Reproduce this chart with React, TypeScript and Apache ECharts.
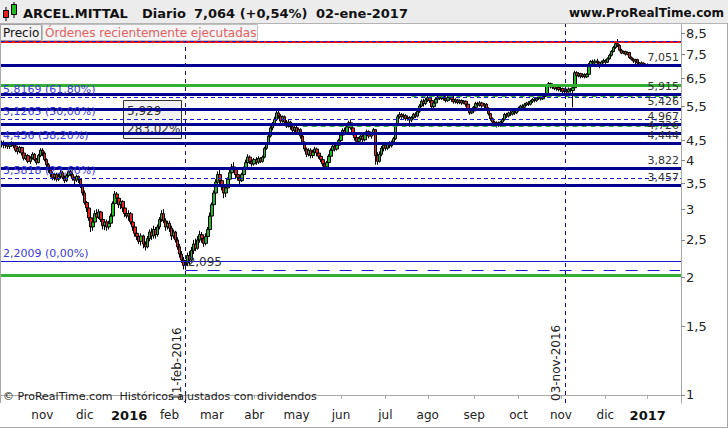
import React, { useEffect, useRef } from "react";
import * as echarts from "echarts";

const FONT = "DejaVu Sans";

// ---- categories (trading days, Madrid) ----
const START_DATE = "2015-10-05";
const END_DATE = "2017-01-24";
const HOLIDAYS = ["2015-12-25", "2016-01-01", "2016-03-25", "2016-03-28", "2016-12-26"];
const MONTH_NAMES = ["ene", "feb", "mar", "abr", "may", "jun", "jul", "ago", "sep", "oct", "nov", "dic"];

// ---- y axis (log scale) ----
const Y_TICKS = [8.5, 7.5, 6.5, 5.5, 4.5, 4, 3.5, 3, 2.5, 2, 1.5, 1];
const Y_MIN = 0.9532;
const Y_MAX = 8.966;

// ---- daily candles [open, close, low, high] ----
const OCT15 = [
  [4.40, 4.45, 4.32, 4.50], [4.45, 4.38, 4.30, 4.50], [4.38, 4.42, 4.30, 4.46], [4.42, 4.35, 4.28, 4.46], [4.35, 4.40, 4.28, 4.44],
  [4.40, 4.44, 4.34, 4.48], [4.44, 4.36, 4.30, 4.46], [4.36, 4.25, 4.20, 4.38], [4.30, 4.22, 4.15, 4.35], [4.22, 4.32, 4.18, 4.36],
  [4.32, 4.18, 4.12, 4.34], [4.18, 4.05, 4.00, 4.22], [4.05, 4.12, 4.01, 4.16], [4.12, 3.98, 3.94, 4.15], [3.98, 4.06, 3.92, 4.10],
  [4.06, 4.15, 4.02, 4.20], [4.15, 4.02, 3.98, 4.18], [4.02, 3.95, 3.90, 4.06], [3.95, 4.12, 3.93, 4.16], [4.12, 4.25, 4.08, 4.30],
];
const NOV15 = [
  [4.25, 4.18, 4.10, 4.30], [4.18, 4.02, 3.98, 4.22], [4.02, 3.90, 3.85, 4.05], [3.90, 3.78, 3.72, 3.94], [3.78, 3.70, 3.62, 3.82],
  [3.70, 3.62, 3.56, 3.74], [3.62, 3.68, 3.55, 3.72], [3.68, 3.58, 3.53, 3.72], [3.58, 3.64, 3.54, 3.70], [3.64, 3.72, 3.60, 3.78],
  [3.72, 3.62, 3.58, 3.76], [3.62, 3.55, 3.50, 3.66], [3.55, 3.66, 3.52, 3.70], [3.66, 3.75, 3.62, 3.82], [3.75, 3.68, 3.64, 3.80],
  [3.68, 3.60, 3.55, 3.72], [3.60, 3.56, 3.48, 3.64], [3.56, 3.64, 3.52, 3.68], [3.64, 3.58, 3.50, 3.66], [3.58, 3.45, 3.40, 3.60],
  [3.45, 3.30, 3.25, 3.48],
];
const DEC15 = [
  [3.30, 3.12, 3.08, 3.35], [3.12, 3.02, 2.95, 3.15], [3.02, 2.85, 2.80, 3.05], [2.85, 2.70, 2.62, 2.88], [2.70, 2.78, 2.64, 2.84],
  [2.78, 2.92, 2.75, 2.98], [2.92, 2.86, 2.82, 3.00], [2.86, 2.95, 2.83, 3.00], [2.95, 2.82, 2.78, 2.97], [2.82, 2.72, 2.66, 2.85],
  [2.72, 2.78, 2.65, 2.82], [2.78, 2.70, 2.64, 2.82], [2.70, 2.76, 2.66, 2.80], [2.76, 2.88, 2.74, 2.92], [2.88, 3.10, 2.86, 3.14],
  [3.10, 3.28, 3.05, 3.34], [3.28, 3.20, 3.12, 3.32], [3.20, 3.08, 3.02, 3.24], [3.08, 3.14, 3.00, 3.18], [3.14, 3.02, 2.95, 3.16],
  [3.02, 2.92, 2.86, 3.06], [2.92, 2.88, 2.84, 2.98],
];
const JAN16 = [
  [2.88, 2.92, 2.80, 2.98], [2.92, 2.78, 2.74, 2.95], [2.78, 2.70, 2.64, 2.82], [2.70, 2.60, 2.55, 2.74], [2.60, 2.55, 2.50, 2.66],
  [2.55, 2.48, 2.44, 2.58], [2.48, 2.56, 2.42, 2.60], [2.56, 2.44, 2.38, 2.58], [2.44, 2.40, 2.35, 2.48], [2.40, 2.52, 2.38, 2.56],
  [2.52, 2.62, 2.48, 2.66], [2.62, 2.56, 2.50, 2.68], [2.56, 2.66, 2.52, 2.72], [2.66, 2.58, 2.52, 2.70], [2.58, 2.70, 2.55, 2.74],
  [2.70, 2.82, 2.66, 2.86], [2.82, 2.92, 2.78, 2.98], [2.92, 2.80, 2.76, 3.00], [2.80, 2.70, 2.64, 2.84], [2.70, 2.76, 2.66, 2.80],
];
const FEB16 = [
  [2.76, 2.68, 2.62, 2.80], [2.68, 2.56, 2.50, 2.72], [2.56, 2.62, 2.52, 2.66], [2.62, 2.50, 2.46, 2.64], [2.50, 2.40, 2.36, 2.54],
  [2.40, 2.30, 2.25, 2.44], [2.30, 2.22, 2.18, 2.34], [2.22, 2.15, 2.10, 2.26], [2.15, 2.18, 2.095, 2.22], [2.18, 2.28, 2.14, 2.32],
  [2.28, 2.22, 2.16, 2.34], [2.22, 2.35, 2.20, 2.40], [2.35, 2.44, 2.30, 2.50], [2.44, 2.38, 2.34, 2.52], [2.38, 2.50, 2.36, 2.56],
  [2.50, 2.58, 2.46, 2.64], [2.58, 2.52, 2.46, 2.62], [2.52, 2.45, 2.40, 2.56], [2.45, 2.55, 2.42, 2.60], [2.55, 2.66, 2.52, 2.70],
  [2.66, 2.88, 2.64, 2.94],
];
const MAR16 = [
  [2.88, 3.08, 2.85, 3.12], [3.08, 3.30, 3.04, 3.35], [3.30, 3.52, 3.28, 3.58], [3.52, 3.68, 3.46, 3.75], [3.68, 3.55, 3.48, 3.78],
  [3.55, 3.42, 3.35, 3.60], [3.42, 3.30, 3.20, 3.46], [3.30, 3.40, 3.22, 3.45], [3.40, 3.58, 3.36, 3.62], [3.58, 3.72, 3.54, 3.78],
  [3.72, 3.85, 3.68, 3.92], [3.85, 3.80, 3.72, 3.96], [3.80, 3.68, 3.60, 3.84], [3.68, 3.62, 3.55, 3.72], [3.62, 3.55, 3.48, 3.66],
  [3.55, 3.68, 3.52, 3.72], [3.68, 3.82, 3.64, 3.86], [3.82, 3.95, 3.78, 4.02], [3.95, 4.08, 3.90, 4.15], [4.08, 3.98, 3.92, 4.12],
  [3.98, 3.92, 3.86, 4.04],
];
const APR16 = [
  [3.92, 4.02, 3.88, 4.06], [4.02, 3.96, 3.90, 4.08], [3.96, 4.05, 3.92, 4.10], [4.05, 3.98, 3.94, 4.08], [3.98, 4.08, 3.95, 4.12],
  [4.08, 4.30, 4.05, 4.34], [4.30, 4.42, 4.26, 4.46], [4.42, 4.62, 4.40, 4.68], [4.62, 4.85, 4.58, 4.90], [4.85, 4.95, 4.78, 5.02],
  [4.95, 5.10, 4.90, 5.18], [5.10, 5.30, 5.05, 5.36], [5.30, 5.20, 5.12, 5.40], [5.20, 5.05, 4.98, 5.26], [5.05, 5.18, 5.00, 5.22],
  [5.18, 5.02, 4.95, 5.22], [5.02, 4.90, 4.85, 5.08], [4.90, 5.02, 4.86, 5.08], [5.02, 4.88, 4.80, 5.06], [4.88, 4.78, 4.72, 4.92],
  [4.78, 4.86, 4.70, 4.90],
];
const MAY16 = [
  [4.86, 4.72, 4.66, 4.92], [4.72, 4.80, 4.65, 4.86], [4.80, 4.62, 4.55, 4.84], [4.62, 4.45, 4.40, 4.66], [4.45, 4.28, 4.22, 4.48],
  [4.28, 4.15, 4.08, 4.32], [4.15, 4.25, 4.10, 4.30], [4.25, 4.12, 4.05, 4.30], [4.12, 4.20, 4.06, 4.26], [4.20, 4.28, 4.15, 4.34],
  [4.28, 4.18, 4.10, 4.32], [4.18, 4.10, 4.04, 4.22], [4.10, 4.02, 3.96, 4.14], [4.02, 3.92, 3.86, 4.06], [3.92, 3.85, 3.78, 3.96],
  [3.85, 3.95, 3.80, 3.99], [3.95, 4.10, 3.92, 4.15], [4.10, 4.25, 4.06, 4.30], [4.25, 4.35, 4.20, 4.42], [4.35, 4.28, 4.22, 4.40],
  [4.28, 4.38, 4.24, 4.44], [4.38, 4.50, 4.34, 4.55],
];
const JUN16 = [
  [4.50, 4.65, 4.46, 4.70], [4.65, 4.78, 4.60, 4.84], [4.78, 4.72, 4.66, 4.86], [4.72, 4.88, 4.68, 4.94], [4.88, 5.00, 4.84, 5.06],
  [5.00, 4.85, 4.80, 5.10], [4.85, 4.70, 4.64, 4.88], [4.70, 4.58, 4.50, 4.74], [4.58, 4.48, 4.42, 4.62], [4.48, 4.55, 4.40, 4.60],
  [4.55, 4.62, 4.50, 4.68], [4.62, 4.52, 4.46, 4.66], [4.52, 4.66, 4.48, 4.72], [4.66, 4.74, 4.60, 4.80], [4.74, 4.62, 4.56, 4.78],
  [4.62, 4.68, 4.55, 4.74], [4.68, 4.80, 4.64, 4.85], [4.80, 4.12, 3.90, 4.82], [4.12, 3.98, 3.90, 4.20], [3.98, 4.15, 3.95, 4.22],
  [4.15, 4.30, 4.10, 4.36], [4.30, 4.38, 4.22, 4.44],
];
const JUL16 = [
  [4.38, 4.30, 4.24, 4.46], [4.30, 4.40, 4.26, 4.46], [4.40, 4.36, 4.30, 4.48], [4.36, 4.46, 4.32, 4.50], [4.46, 4.55, 4.42, 4.60],
  [4.55, 4.92, 4.52, 4.98], [4.92, 5.18, 4.90, 5.25], [5.18, 5.25, 5.12, 5.33], [5.25, 5.18, 5.12, 5.30], [5.18, 5.22, 5.12, 5.28],
  [5.22, 5.12, 5.06, 5.26], [5.12, 5.16, 5.06, 5.22], [5.16, 5.08, 4.88, 5.20], [5.08, 5.15, 5.02, 5.20], [5.15, 5.26, 5.10, 5.30],
  [5.26, 5.20, 5.14, 5.32], [5.20, 5.35, 5.16, 5.40], [5.35, 5.52, 5.30, 5.58], [5.52, 5.68, 5.48, 5.74], [5.68, 5.60, 5.50, 5.76],
  [5.60, 5.72, 5.55, 5.80],
];
const AUG16 = [
  [5.72, 5.80, 5.65, 5.88], [5.80, 5.70, 5.62, 5.84], [5.70, 5.50, 5.36, 5.74], [5.50, 5.62, 5.46, 5.68], [5.62, 5.75, 5.58, 5.80],
  [5.75, 5.82, 5.70, 5.88], [5.82, 5.78, 5.72, 5.90], [5.78, 5.84, 5.72, 5.90], [5.84, 5.76, 5.70, 5.88], [5.76, 5.70, 5.64, 5.80],
  [5.70, 5.80, 5.66, 5.86], [5.80, 5.86, 5.74, 5.90], [5.86, 5.74, 5.66, 5.88], [5.74, 5.66, 5.60, 5.78], [5.66, 5.72, 5.60, 5.78],
  [5.72, 5.64, 5.58, 5.76], [5.64, 5.70, 5.58, 5.74], [5.70, 5.62, 5.56, 5.74], [5.62, 5.68, 5.58, 5.72], [5.68, 5.58, 5.50, 5.70],
  [5.58, 5.42, 5.36, 5.60], [5.42, 5.30, 5.24, 5.46], [5.30, 5.36, 5.26, 5.42],
];
const SEP16 = [
  [5.36, 5.48, 5.32, 5.52], [5.48, 5.60, 5.44, 5.66], [5.60, 5.55, 5.48, 5.66], [5.55, 5.62, 5.50, 5.68], [5.62, 5.52, 5.46, 5.66],
  [5.52, 5.58, 5.46, 5.62], [5.58, 5.45, 5.40, 5.62], [5.45, 5.28, 5.22, 5.48], [5.28, 5.12, 5.06, 5.30], [5.12, 5.02, 4.96, 5.16],
  [5.02, 4.94, 4.88, 5.06], [4.94, 5.00, 4.86, 5.04], [5.00, 4.92, 4.88, 5.04], [4.92, 5.02, 4.88, 5.06], [5.02, 5.10, 4.98, 5.14],
  [5.10, 5.25, 5.06, 5.30], [5.25, 5.20, 5.14, 5.30], [5.20, 5.30, 5.16, 5.34], [5.30, 5.26, 5.20, 5.36], [5.26, 5.34, 5.22, 5.38],
  [5.34, 5.30, 5.24, 5.40], [5.30, 5.38, 5.26, 5.42],
];
const OCT16 = [
  [5.38, 5.45, 5.34, 5.50], [5.45, 5.52, 5.40, 5.56], [5.52, 5.48, 5.42, 5.58], [5.48, 5.56, 5.44, 5.62], [5.56, 5.62, 5.52, 5.66],
  [5.62, 5.58, 5.52, 5.68], [5.58, 5.68, 5.54, 5.72], [5.68, 5.74, 5.62, 5.78], [5.74, 5.70, 5.64, 5.80], [5.70, 5.78, 5.66, 5.82],
  [5.78, 5.82, 5.72, 5.88], [5.82, 5.76, 5.70, 5.86], [5.76, 5.84, 5.72, 5.90], [5.84, 5.90, 5.80, 5.94], [5.90, 6.20, 5.88, 6.28],
  [6.20, 6.30, 6.14, 6.36], [6.30, 6.18, 6.12, 6.34], [6.18, 6.22, 6.10, 6.28], [6.22, 6.12, 6.06, 6.26], [6.12, 6.16, 6.04, 6.22],
  [6.16, 6.08, 6.02, 6.20],
];
const NOV16 = [
  [6.08, 6.12, 6.00, 6.18], [6.12, 6.02, 5.96, 6.16], [6.02, 6.06, 5.95, 6.10], [6.06, 6.00, 5.94, 6.12], [6.00, 6.10, 5.98, 6.16],
  [6.10, 6.05, 5.98, 6.14], [6.05, 6.15, 5.48, 6.18], [6.15, 6.72, 6.12, 6.80], [6.72, 6.60, 6.52, 6.78], [6.60, 6.68, 6.54, 6.74],
  [6.68, 6.58, 6.50, 6.72], [6.58, 6.64, 6.52, 6.70], [6.64, 6.56, 6.50, 6.70], [6.56, 6.66, 6.52, 6.70], [6.66, 7.05, 6.62, 7.12],
  [7.05, 7.18, 7.00, 7.24], [7.18, 7.12, 7.04, 7.26], [7.12, 7.20, 7.06, 7.28], [7.20, 7.14, 7.08, 7.30], [7.14, 7.06, 6.90, 7.18],
  [7.06, 7.16, 7.02, 7.22], [7.16, 7.22, 7.10, 7.30],
];
const DEC16 = [
  [7.22, 7.15, 7.08, 7.28], [7.15, 7.30, 7.12, 7.36], [7.30, 7.45, 7.26, 7.52], [7.45, 7.62, 7.40, 7.68], [7.62, 7.80, 7.58, 7.88],
  [7.80, 7.98, 7.74, 8.05], [7.98, 7.90, 7.82, 8.20], [7.90, 7.68, 7.62, 7.95], [7.68, 7.55, 7.50, 7.74], [7.55, 7.62, 7.50, 7.66],
  [7.62, 7.50, 7.44, 7.66], [7.50, 7.58, 7.45, 7.62], [7.58, 7.35, 7.30, 7.60], [7.35, 7.28, 7.22, 7.40], [7.28, 7.20, 7.12, 7.32],
  [7.20, 7.26, 7.00, 7.30], [7.26, 7.12, 7.06, 7.30], [7.12, 7.06, 7.00, 7.16], [7.06, 7.12, 7.02, 7.18], [7.12, 7.02, 6.98, 7.14],
  [7.02, 7.026, 6.96, 7.10],
];
const JAN17 = [[7.026, 7.064, 7.00, 7.10]];

const PRICES = [
  ...OCT15, ...NOV15, ...DEC15, ...JAN16, ...FEB16, ...MAR16, ...APR16, ...MAY16,
  ...JUN16, ...JUL16, ...AUG16, ...SEP16, ...OCT16, ...NOV16, ...DEC16, ...JAN17,
];

// ---- drawn levels ----
const BLUE_LEVELS = [7.051, 5.915, 5.426, 4.967, 4.726, 4.444, 3.822, 3.457];
const FIB_VALUES = [8.052, 5.8169, 5.1265, 4.436, 3.5818, 2.2009];
const FIB_LABELS = ["", "5,8169 (61,80%)", "5,1265 (50,00%)", "4,436 (38,20%)", "3,5818 (23,60%)", "2,2009 (0,00%)"];
const GREEN_LEVELS = [6.224, 2.03];
const GREEN_DASH_VALUES = [7.06, 5.84, 4.90];
const GREEN_DASH_FROM = ["2016-11-18", "2016-07-20", "2016-05-05"];
const LOW_VALUE = 2.095;
const LOW_DATE = "2016-02-11";
const VLINE_DATES = ["2016-02-11", "2016-11-03"];
const VLINE_LABELS = ["11-feb-2016", "03-nov-2016"];

function buildDates(): string[] {
  const out: string[] = [];
  const d = new Date(START_DATE + "T00:00:00Z");
  const end = new Date(END_DATE + "T00:00:00Z");
  while (d <= end) {
    const dow = d.getUTCDay();
    const s = d.toISOString().slice(0, 10);
    if (dow !== 0 && dow !== 6 && !HOLIDAYS.includes(s)) out.push(s);
    d.setUTCDate(d.getUTCDate() + 1);
  }
  return out;
}

const fmtTick = (v: number) => String(Math.round(v * 10) / 10).replace(".", ",");
const fmt3 = (v: number) => v.toFixed(3).replace(".", ",");

export default function App() {
  const ref = useRef<HTMLDivElement>(null);
  useEffect(() => {
    if (!ref.current) return;
    const chart = echarts.init(ref.current, null, { renderer: "svg" });
    const dates = buildDates();
    const lastDate = dates[dates.length - 1];
    const isMonthStart = (i: number) => i > 0 && dates[i].slice(5, 7) !== dates[i - 1].slice(5, 7);
    const ln = Math.log;

    const markData: any[] = [];
    // red top line (Fib 100%)
    markData.push({ yAxis: ln(FIB_VALUES[0]), lineStyle: { color: "#ee1111", width: 2, type: "solid" }, label: { show: false } });
    GREEN_LEVELS.forEach((v) =>
      markData.push({ yAxis: ln(v), lineStyle: { color: "#33b033", width: 3, type: "solid" }, label: { show: false } })
    );
    GREEN_DASH_VALUES.forEach((v, i) =>
      markData.push([
        { coord: [GREEN_DASH_FROM[i], ln(v)], lineStyle: { color: "#33b033", width: 1, type: [5, 4] }, label: { show: false } },
        { coord: [lastDate, ln(v)] },
      ])
    );
    FIB_VALUES.forEach((v, i) =>
      markData.push({
        yAxis: ln(v),
        lineStyle: { color: "#1a1ad0", width: 1, type: i === FIB_VALUES.length - 1 ? "solid" : [4, 3] },
        label: {
          show: !!FIB_LABELS[i], position: "insideStartTop", formatter: FIB_LABELS[i],
          color: "#3a3ad8", fontSize: 11, fontFamily: FONT, distance: [2, 2],
        },
      })
    );
    BLUE_LEVELS.forEach((v) =>
      markData.push({
        yAxis: ln(v),
        lineStyle: { color: "#000090", width: 3, type: "solid" },
        label: {
          show: true, position: "insideEndTop", formatter: fmt3(v),
          color: "#333", fontSize: 11, fontFamily: FONT, distance: [2, 2],
        },
      })
    );
    markData.push([
      {
        coord: [LOW_DATE, ln(LOW_VALUE)],
        lineStyle: { color: "#1a1ad0", width: 1, type: [12, 10] },
        label: { show: true, position: "insideStartTop", formatter: fmt3(LOW_VALUE), color: "#333", fontSize: 12, fontFamily: FONT, distance: [2, 2] },
      },
      { coord: [lastDate, ln(LOW_VALUE)] },
    ]);
    VLINE_DATES.forEach((d, i) =>
      markData.push({
        xAxis: d,
        lineStyle: { color: "#10109a", width: 1, type: [4, 4] },
        label: { show: true, position: "insideStartTop", formatter: VLINE_LABELS[i], color: "#222", fontSize: 12, fontFamily: FONT, distance: [2, 3] },
      })
    );

    const T = (text: string, x: number, y: number, o: any = {}) => ({
      type: "text", x, y, z: 100,
      style: { text, fill: o.fill || "#111", font: `${o.weight || "normal"} ${o.size || 12}px "${FONT}"`, textAlign: o.align || "left", textVerticalAlign: "middle" },
    });

    chart.setOption({
      animation: false,
      backgroundColor: "#ffffff",
      grid: { left: 1, right: 47, top: 24, bottom: 25, containLabel: false, outerBoundsMode: "none" } as any,
      xAxis: {
        type: "category",
        data: dates,
        boundaryGap: true,
        axisLine: { show: true, lineStyle: { color: "#a8a8a8", width: 1 } },
        axisTick: { show: true, interval: (i: number) => isMonthStart(i), length: 4, alignWithLabel: true, lineStyle: { color: "#a8a8a8" } },
        axisLabel: {
          interval: (i: number) => isMonthStart(i),
          formatter: (v: string) => {
            const m = Number(v.slice(5, 7));
            return m === 1 ? `{y|${v.slice(0, 4)}}` : MONTH_NAMES[m - 1];
          },
          color: "#222", fontSize: 12, fontFamily: FONT, margin: 6,
          rich: { y: { fontWeight: "bold", fontSize: 13, fontFamily: FONT, color: "#111" } },
        },
        splitLine: { show: false },
      },
      yAxis: {
        type: "value",
        position: "right",
        min: ln(Y_MIN),
        max: ln(Y_MAX),
        splitLine: { show: false },
        axisLine: { show: true, lineStyle: { color: "#a8a8a8" } },
        axisTick: { show: true, customValues: Y_TICKS.map(ln), length: 4, lineStyle: { color: "#888" } } as any,
        axisLabel: {
          customValues: Y_TICKS.map(ln),
          formatter: (v: number) => fmtTick(Math.exp(v)),
          color: "#222", fontSize: 13, fontFamily: FONT, margin: 5,
        } as any,
      },
      series: [
        {
          type: "candlestick",
          data: PRICES.map((r) => r.map(ln)),
          barWidth: 3,
          itemStyle: { color: "#22bb22", color0: "#e82020", borderColor: "#000", borderColor0: "#000", borderWidth: 1 },
          markLine: { symbol: ["none", "none"], silent: true, animation: false, data: markData },
        },
      ],
      graphic: [
        { type: "rect", z: 100, shape: { x: 0, y: 0, width: 728, height: 23 }, style: { fill: "#ececec" } },
        { type: "line", z: 100, shape: { x1: 0, y1: 23.5, x2: 728, y2: 23.5 }, style: { stroke: "#b4b4b4", lineWidth: 1 } },
        { type: "line", z: 100, shape: { x1: 6, y1: 7, x2: 6, y2: 21 }, style: { stroke: "#000", lineWidth: 1 } },
        { type: "rect", z: 101, shape: { x: 3.5, y: 10.5, width: 5, height: 7 }, style: { fill: "#e82020", stroke: "#000" } },
        { type: "line", z: 100, shape: { x1: 14, y1: 2, x2: 14, y2: 18 }, style: { stroke: "#000", lineWidth: 1 } },
        { type: "rect", z: 101, shape: { x: 11.5, y: 4.5, width: 5, height: 10 }, style: { fill: "#22bb22", stroke: "#000" } },
        T("ARCEL.MITTAL", 23, 13, { weight: "bold", size: 13 }),
        T("Diario", 142, 13, { weight: "bold", size: 13 }),
        T("7,064 (+0,54%)", 194, 13, { weight: "bold", size: 13 }),
        T("02-ene-2017", 316, 13, { weight: "bold", size: 13 }),
        T("www.ProRealTime.com", 724, 13, { weight: "bold", size: 12, align: "right" }),
        { type: "rect", z: 100, shape: { x: 0.5, y: 24.5, width: 41, height: 16 }, style: { fill: "#f2f2f2", stroke: "#a0a0a0" } },
        T("Precio", 3, 33, { size: 12 }),
        { type: "rect", z: 100, shape: { x: 42.5, y: 24.5, width: 215, height: 16 }, style: { fill: "#f5f5f5", stroke: "#c0c0c0" } },
        T("Órdenes recientemente ejecutadas", 45, 33, { size: 12, fill: "#e06060" }),
        { type: "rect", z: 1, shape: { x: 123.5, y: 100.5, width: 58, height: 38 }, style: { fill: "rgba(232,232,232,0.6)", stroke: "#333" } },
        { ...T("5,929", 127, 111, { size: 12, fill: "#333" }), z: 1 },
        { ...T("283,02%", 127, 129, { size: 12, fill: "#333" }), z: 1 },
        T("© ProRealTime.com  Históricos ajustados con dividendos", 3, 396, { size: 11, fill: "#222" }),
        { type: "line", z: 100, shape: { x1: 0.5, y1: 23, x2: 0.5, y2: 403 }, style: { stroke: "#a8a8a8", lineWidth: 1 } },
        { type: "line", z: 100, shape: { x1: 0, y1: 427.5, x2: 728, y2: 427.5 }, style: { stroke: "#a8a8a8", lineWidth: 1 } },
        { type: "line", z: 100, shape: { x1: 727.5, y1: 23, x2: 727.5, y2: 428 }, style: { stroke: "#a8a8a8", lineWidth: 1 } },
      ],
    });
    return () => chart.dispose();
  }, []);
  return <div ref={ref} style={{ position: "fixed", left: 0, top: 0, width: 728, height: 428, background: "#fff" }} />;
}
